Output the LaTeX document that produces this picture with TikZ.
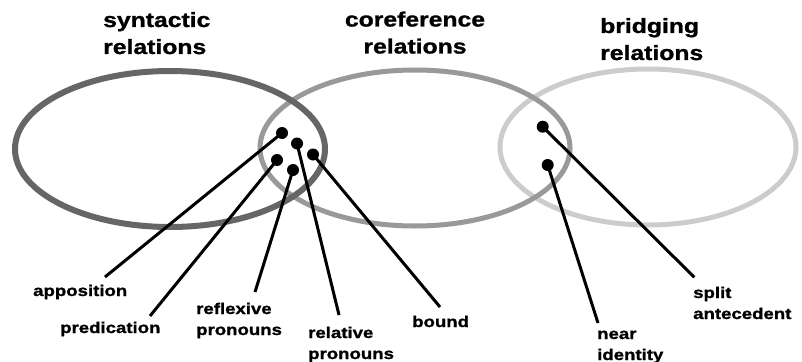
\documentclass[tikz,border=0pt]{standalone}
\usepackage{fontspec}
\newfontfamily\heavyfont{Liberation Sans Bold}[FakeStretch=1.2,FakeBold=1.2]
\definecolor{ringA}{HTML}{666666}
\definecolor{ringB}{HTML}{999999}
\definecolor{ringC}{HTML}{CCCCCC}
\newcommand{\twoL}[2]{\begin{tabular}[t]{@{}l@{}}#1\\#2\end{tabular}}
\newcommand{\twoC}[2]{\begin{tabular}[t]{@{}c@{}}#1\\#2\end{tabular}}
\begin{document}
\begin{tikzpicture}[x=1pt,y=-1pt,
  ringstyle/.style={line width=5pt},
  dot/.style={circle,fill=black,inner sep=0pt,minimum size=12pt},
  link/.style={line width=3pt},
  lbl/.style={inner sep=0pt,font=\heavyfont\fontsize{15.5}{21}\selectfont,anchor=base west},
  ttl/.style={inner sep=0pt,font=\heavyfont\fontsize{20.6}{27}\selectfont}]
\useasboundingbox (0,0) rectangle (802,361);
% rings
\draw[ringstyle,draw=ringC] (648,147) ellipse [x radius=148pt, y radius=78pt];
\draw[ringstyle,draw=ringB] (415,148) ellipse [x radius=155pt, y radius=78pt];
\draw[ringstyle,draw=ringA,line width=6pt] (170,149) ellipse [x radius=155pt, y radius=78pt];
% titles
\node[ttl,anchor=base west] (tsyn) at (103,27) {\twoL{syntactic}{relations}};
\node[ttl,anchor=base] (tcor) at (415,26.5) {\twoC{coreference}{relations}};
\node[ttl,anchor=base west] (tbri) at (600,33) {\twoL{bridging}{relations}};
% dots
\node[dot] (dA) at (282,133) {};
\node[dot] (dB) at (297,143.5) {};
\node[dot] (dC) at (313,154.5) {};
\node[dot] (dD) at (277,160) {};
\node[dot] (dE) at (293,170) {};
\node[dot] (dF) at (542.7,126.7) {};
\node[dot] (dG) at (547.7,165) {};
% labels
\node[lbl] (lapp) at (33,296) {apposition};
\node[lbl] (lpre) at (60,333) {predication};
\node[lbl] (lref) at (196,314) {\twoL{reflexive}{pronouns}};
\node[lbl] (lrel) at (308,338) {\twoL{relative}{pronouns}};
\node[lbl] (lbou) at (412,327) {bound};
\node[lbl] (lnea) at (597,339) {\twoL{near}{identity}};
\node[lbl] (lspl) at (693,298) {\twoL{split}{antecedent}};
% connector ends
\coordinate (eA) at (105,277);
\coordinate (eD) at (150,316);
\coordinate (eE) at (255,292);
\coordinate (eB) at (339,315);
\coordinate (eC) at (440,307);
\coordinate (eG) at (598,323);
\coordinate (eF) at (694.3,277.3);
% connectors
\draw[link] (dA.center) -- (eA);
\draw[link] (dD.center) -- (eD);
\draw[link] (dE.center) -- (eE);
\draw[link] (dB.center) -- (eB);
\draw[link] (dC.center) -- (eC);
\draw[link] (dG.center) -- (eG);
\draw[link] (dF.center) -- (eF);
\end{tikzpicture}
\end{document}
